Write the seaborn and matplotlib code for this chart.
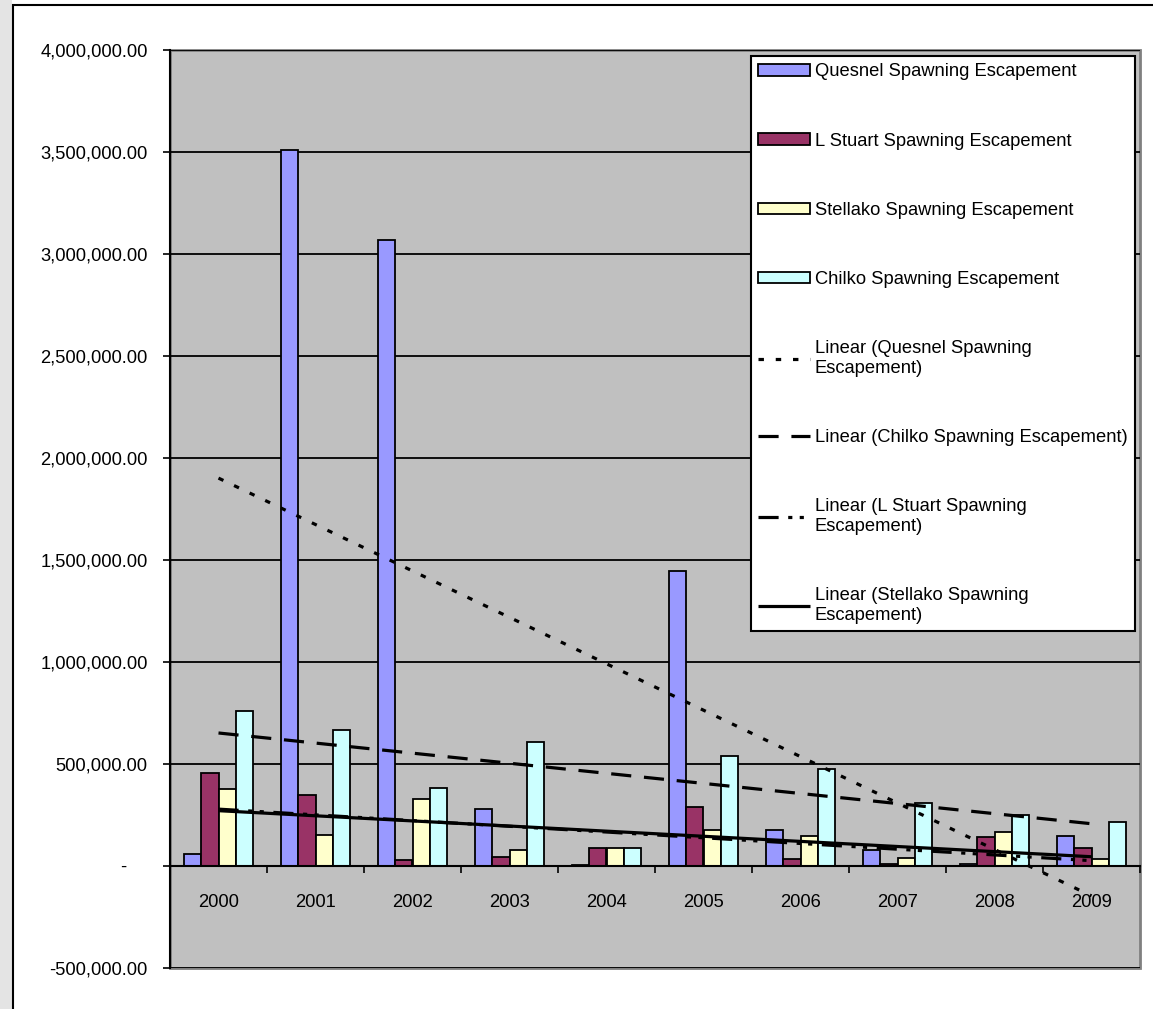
"""
Fraser sockeye spawning escapement 2000-2009 with linear trendlines
"""
import numpy as np
import pandas as pd
import matplotlib
matplotlib.use("Agg")
import matplotlib.pyplot as plt
import seaborn as sns
from matplotlib import font_manager
from matplotlib.patches import Patch, Rectangle
from matplotlib.ticker import FuncFormatter, MultipleLocator, FixedLocator

# data
years = ["2000", "2001", "2002", "2003", "2004", "2005", "2006", "2007", "2008", "2009"]
quesnel = [57000, 3510000, 3070000, 281000, 3000, 1446000, 176000, 78000, 8000, 146000]
l_stuart = [454000, 347000, 28000, 42000, 88000, 291000, 33000, 10000, 144000, 88000]
stellako = [376000, 152000, 328000, 78000, 88000, 176000, 146000, 41000, 165000, 33000]
chilko = [761000, 667000, 383000, 608000, 88000, 541000, 474000, 310000, 250000, 214000]

series_names = ["Quesnel Spawning Escapement", "L Stuart Spawning Escapement",
                "Stellako Spawning Escapement", "Chilko Spawning Escapement"]
bar_colors = ["#9999FF", "#993366", "#FFFFCC", "#CCFFFF"]

# font: narrow Arial-like if available
names = {f.name for f in font_manager.fontManager.ttflist}
if "Liberation Sans Narrow" in names:
    FONT, FS = "Liberation Sans Narrow", 16
else:
    FONT, FS = "Liberation Sans", 13.2
plt.rcParams["font.family"] = [FONT, "DejaVu Sans"]
plt.rcParams["font.size"] = FS

W, H = 1153, 1009
fig = plt.figure(figsize=(W / 100, H / 100), dpi=100, facecolor="white")

# outer chart frame (screenshot look)
fig.patches.append(Rectangle((0, 0), 12 / W, 1, transform=fig.transFigure,
                             facecolor="#e4e4e4", edgecolor="none", zorder=0))
fig.patches.append(Rectangle((13 / W, -0.1), 1.1, 1.1 - 5 / H, transform=fig.transFigure,
                             facecolor="none", edgecolor="black", lw=1.5, zorder=1))

ax = fig.add_axes([170 / W, 1 - 968 / H, 970 / W, 918 / H])
ax.set_facecolor("#C0C0C0")

df = pd.DataFrame({
    "year": years * 4,
    "value": quesnel + l_stuart + stellako + chilko,
    "series": np.repeat(series_names, len(years)),
})
sns.barplot(data=df, x="year", y="value", hue="series", hue_order=series_names,
            palette=bar_colors, width=0.72, gap=0, saturation=1,
            edgecolor="black", linewidth=1.3, legend=False, ax=ax)

# linear trendlines (least squares, as Excel does)
xpos = np.arange(len(years))
trends = [
    (quesnel, "Linear (Quesnel Spawning\nEscapement)", (1.7, 3.7)),
    (chilko, "Linear (Chilko Spawning Escapement)", (6.3, 4.0)),
    (l_stuart, "Linear (L Stuart Spawning\nEscapement)", (6.3, 3.0, 1.3, 2.3, 1.3, 3.0)),
    (stellako, "Linear (Stellako Spawning\nEscapement)", None),
]
trend_handles = []
for vals, lab, dash in trends:
    kws = dict(lw=2.3, label=lab, solid_capstyle="butt", dash_capstyle="butt")
    if dash is not None:
        kws["dashes"] = dash
    sns.regplot(x=xpos, y=np.array(vals, dtype=float), scatter=False, ci=None,
                color="black", line_kws=kws, ax=ax)
    trend_handles.append(ax.lines[-1])

ax.set_xlim(-0.5, len(years) - 0.5)
ax.set_ylim(-500000, 4000000)
ax.set_xlabel("")
ax.set_ylabel("")

# y axis
ax.yaxis.set_major_locator(MultipleLocator(500000))
ax.yaxis.set_major_formatter(FuncFormatter(lambda v, p: "-    " if v == 0 else f"{v:,.2f}"))
ax.tick_params(axis="y", direction="out", length=5, width=1.2, color="black", pad=11)
ax.yaxis.grid(True, color="black", lw=1.3)
ax.set_axisbelow(True)

# x axis sits at zero, labels inside the plot area
ax.spines["bottom"].set_position(("data", 0))
ax.spines["bottom"].set_linewidth(1.5)
ax.spines["left"].set_linewidth(1.5)
ax.spines["top"].set_visible(False)
ax.spines["right"].set_visible(False)
ax.set_xticks(xpos)
ax.set_xticklabels(years)
ax.xaxis.set_minor_locator(FixedLocator(np.arange(-0.5, len(years), 1.0)))
ax.tick_params(axis="x", which="major", length=0, pad=20)
ax.tick_params(axis="x", which="minor", direction="out", length=5, width=1.2, color="black")
ax.add_patch(Rectangle((0, 0), 1, 1, transform=ax.transAxes, fill=False,
                       edgecolor="#808080", lw=2, clip_on=False, zorder=0.5))

# legend
bar_handles = [Patch(facecolor=c, edgecolor="black", lw=1.3) for c in bar_colors]
handles = bar_handles + trend_handles
labels = series_names + [t[1] for t in trends]
leg = ax.legend(handles, labels, loc="upper right",
                bbox_to_anchor=(1135 / W, 1 - 56 / H), bbox_transform=fig.transFigure,
                frameon=True, fancybox=False, framealpha=1, edgecolor="black",
                borderaxespad=0, borderpad=0.4, labelspacing=2.85,
                handlelength=2.85, handleheight=0.6, handletextpad=0.25)
leg.get_frame().set_linewidth(1.5)

fig.savefig("out.png", dpi=100, facecolor="white")
